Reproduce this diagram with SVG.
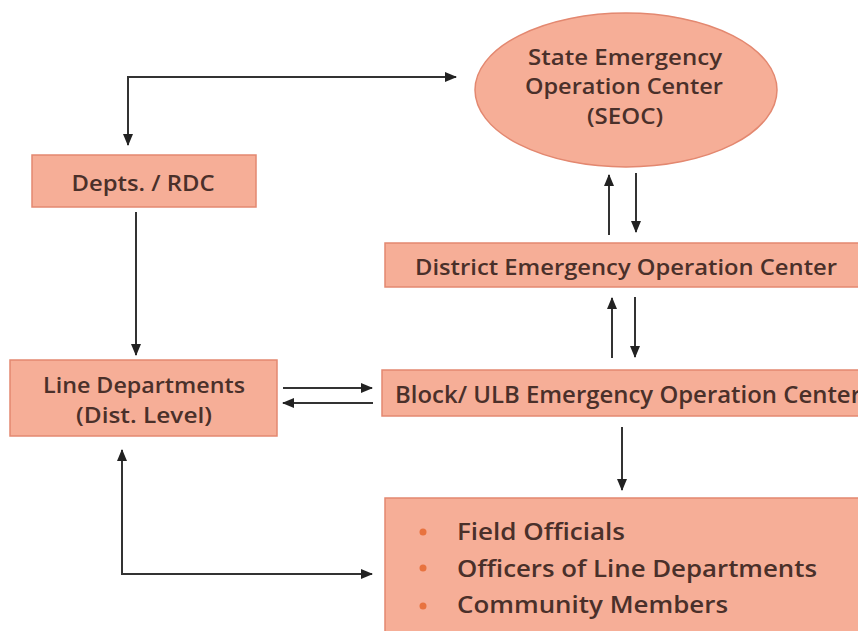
<svg xmlns="http://www.w3.org/2000/svg" width="858" height="631" viewBox="0 0 858 631">
<style>
.box{fill:#F6AE97;stroke:#E38870;stroke-width:1.5}
.t{font-family:"Open Sans","Liberation Sans",sans-serif;font-size:22px;font-weight:600;fill:#4A302A;text-anchor:middle}
.tl{font-family:"Open Sans","Liberation Sans",sans-serif;font-size:23px;font-weight:600;fill:#4A302A}
.c{fill:none;stroke:#333;stroke-width:2}
.b{fill:#E8733F}
</style>
<defs>
<marker id="ah" markerUnits="userSpaceOnUse" markerWidth="12" markerHeight="10" refX="11" refY="5" orient="auto-start-reverse">
<path d="M0,0 L12,5 L0,10 Z" fill="#222"/>
</marker>
</defs>
<rect width="858" height="631" fill="#fff"/>
<g id="seoc">
<ellipse class="box" cx="626" cy="90" rx="151" ry="77"/>
<text class="t" x="625" y="65" textLength="194" lengthAdjust="spacingAndGlyphs">State Emergency</text>
<text class="t" x="624" y="94" textLength="198" lengthAdjust="spacingAndGlyphs">Operation Center</text>
<text class="t" x="625" y="124" textLength="76" lengthAdjust="spacingAndGlyphs">(SEOC)</text>
</g>
<g id="depts">
<rect class="box" x="32" y="155" width="224" height="52"/>
<text class="t" x="143" y="191" textLength="143" lengthAdjust="spacingAndGlyphs">Depts. / RDC</text>
</g>
<g id="line-dept">
<rect class="box" x="10" y="360" width="267" height="76"/>
<text class="t" x="144" y="393" textLength="202" lengthAdjust="spacingAndGlyphs">Line Departments</text>
<text class="t" x="144" y="423" textLength="136" lengthAdjust="spacingAndGlyphs">(Dist. Level)</text>
</g>
<g id="district">
<rect class="box" x="385" y="243" width="480" height="44"/>
<text class="t" x="626" y="275" textLength="422" lengthAdjust="spacingAndGlyphs">District Emergency Operation Center</text>
</g>
<g id="block">
<rect class="box" x="382" y="370" width="490" height="46"/>
<text class="tl" x="395" y="403" textLength="466" lengthAdjust="spacingAndGlyphs">Block/ ULB Emergency Operation Center</text>
</g>
<g id="field">
<rect class="box" x="385" y="498" width="490" height="150"/>
<circle class="b" cx="423" cy="532" r="3.5"/>
<circle class="b" cx="423" cy="568" r="3.5"/>
<circle class="b" cx="423" cy="606" r="3.5"/>
<text class="tl" x="457" y="540" textLength="168" lengthAdjust="spacingAndGlyphs">Field Officials</text>
<text class="tl" x="457" y="577" textLength="360" lengthAdjust="spacingAndGlyphs">Officers of Line Departments</text>
<text class="tl" x="457" y="613" textLength="271" lengthAdjust="spacingAndGlyphs">Community Members</text>
</g>
<g id="connectors">
<path class="c" d="M128,145 L128,77 L456,77" marker-start="url(#ah)" marker-end="url(#ah)"/>
<path class="c" d="M136,212 L136,355" marker-end="url(#ah)"/>
<path class="c" d="M283,388 L372,388" marker-end="url(#ah)"/>
<path class="c" d="M373,403 L283,403" marker-end="url(#ah)"/>
<path class="c" d="M609,235 L609,175" marker-end="url(#ah)"/>
<path class="c" d="M636,173 L636,232" marker-end="url(#ah)"/>
<path class="c" d="M612,358 L612,298" marker-end="url(#ah)"/>
<path class="c" d="M635,297 L635,357" marker-end="url(#ah)"/>
<path class="c" d="M622,427 L622,490" marker-end="url(#ah)"/>
<path class="c" d="M122,450 L122,574 L372,574" marker-start="url(#ah)" marker-end="url(#ah)"/>
</g>
</svg>
